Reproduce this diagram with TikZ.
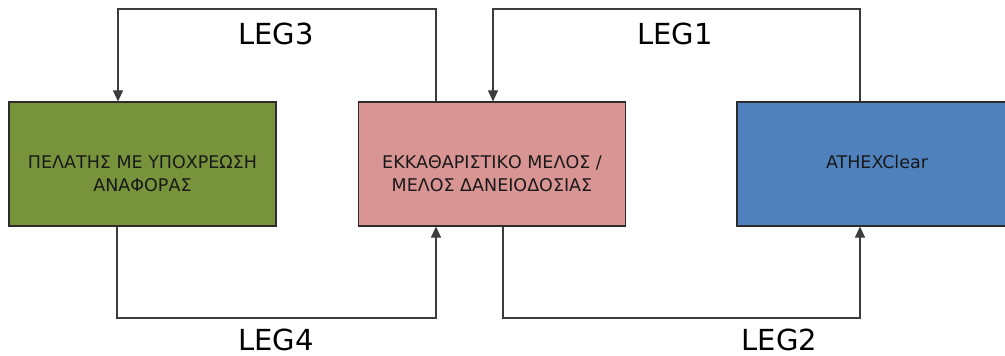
\documentclass[tikz,border=0pt]{standalone}
\usepackage{fontspec}
\setmainfont{DejaVu Sans}
\usetikzlibrary{arrows.meta}
\definecolor{clientgreen}{RGB}{119,147,60}
\definecolor{memberpink}{RGB}{217,149,148}
\definecolor{athexblue}{RGB}{79,129,189}
\definecolor{boxline}{RGB}{45,45,45}
\definecolor{flowline}{RGB}{60,60,60}

\begin{document}
\begin{tikzpicture}[x=1pt,y=1pt,
        box/.style={draw=boxline,line width=1.2pt,minimum width=267pt,minimum height=124pt,inner sep=0pt},
        boxtext/.style={align=center,inner sep=0pt,text=black!90,font=\fontsize{17.5}{23.4}\selectfont},
        leglabel/.style={inner sep=0pt,font=\fontsize{29}{35}\selectfont},
        flow/.style={draw=flowline,line width=1.1pt,-{Triangle[length=11pt,width=10pt]}}]
        \useasboundingbox (0,0) rectangle (1005,356);
        % boxes
        \node[box,fill=clientgreen] (client) at (142.5,192) {};
        \node[box,fill=memberpink] (member) at (492,192) {};
        \node[box,fill=athexblue,minimum width=280pt] (athex) at (877,192) {};
        \node[boxtext] (clienttext) at (142.5,182.6) {ΠΕΛΑΤΗΣ ΜΕ ΥΠΟΧΡΕΩΣΗ\\ΑΝΑΦΟΡΑΣ};
        \node[boxtext] (membertext) at (492,182.6) {ΕΚΚΑΘΑΡΙΣΤΙΚΟ ΜΕΛΟΣ /\\ΜΕΛΟΣ ΔΑΝΕΙΟΔΟΣΙΑΣ};
        \node[boxtext] (athextext) at (877,194.3) {ATHEXClear};

        % top line
        \coordinate (leg3r) at (436,347);
        \coordinate (leg3l) at (118,347);
        \draw[flow] (member.north -| leg3r) -- (leg3r) -- (leg3l) -- (client.north -| leg3l);
        \coordinate (leg1r) at (860,347);
        \coordinate (leg1l) at (493,347);
        \draw[flow] (athex.north -| leg1r) -- (leg1r) -- (leg1l) -- (member.north -| leg1l);
        \node[leglabel] (leg3) at (276,322) {LEG3};
        \node[leglabel] (leg1) at (675,322) {LEG1};

        % bottom line
        \coordinate (leg4l) at (117,38);
        \coordinate (leg4r) at (436,38);
        \draw[flow] (client.south -| leg4l) -- (leg4l) -- (leg4r) -- (member.south -| leg4r);
        \coordinate (leg2l) at (503,38);
        \coordinate (leg2r) at (860,38);
        \draw[flow] (member.south -| leg2l) -- (leg2l) -- (leg2r) -- (athex.south -| leg2r);
        \node[leglabel] (leg4) at (276,16) {LEG4};
        \node[leglabel] (leg2) at (779.5,16) {LEG2};
\end{tikzpicture}
\end{document}
